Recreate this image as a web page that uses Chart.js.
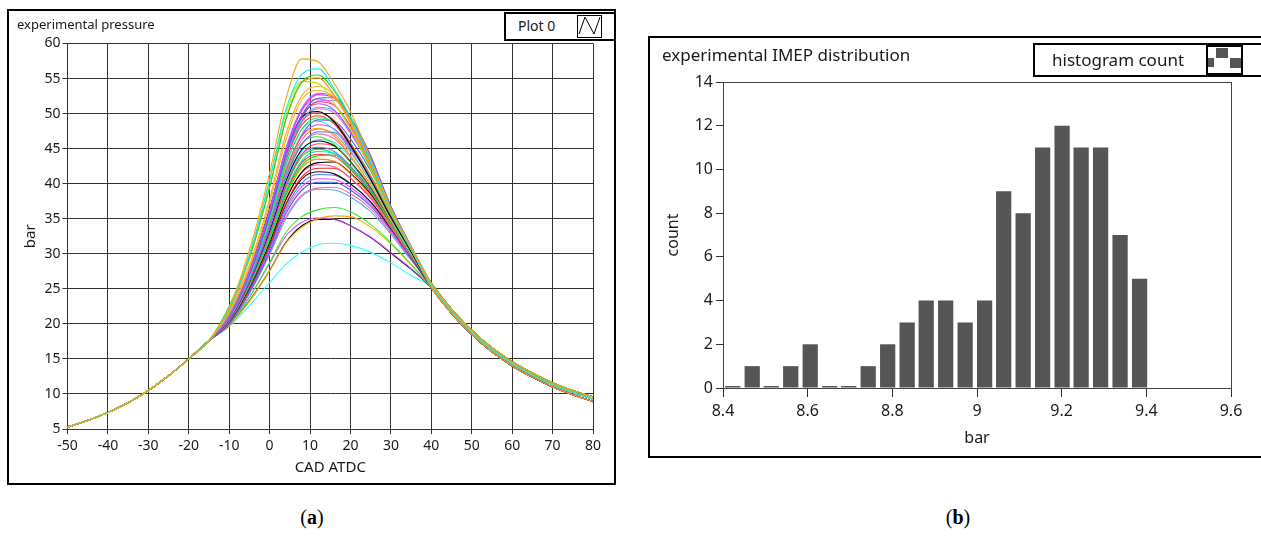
<!DOCTYPE html>
<html>
<head>
<meta charset="utf-8">
<script src="https://cdn.jsdelivr.net/npm/chart.js@4.4.1/dist/chart.umd.min.js"></script>
<style>
  html,body{margin:0;padding:0;background:#fff;}
  body{width:1261px;height:539px;overflow:hidden;position:relative;font-family:'Noto Sans',sans-serif;color:#1a1a1a;}
  .frame{position:absolute;border:2px solid #000;box-sizing:border-box;background:#fff;}
  .frame canvas{position:absolute;left:0;top:0;}
  .ptitle{position:absolute;white-space:nowrap;}
  .legA{position:absolute;left:495px;top:1px;width:112px;height:29px;border:2px solid #000;box-sizing:border-box;background:#fff;}
  .legA .txt{position:absolute;left:12px;top:3px;font-size:14px;line-height:18px;}
  .legA .ico{position:absolute;left:71px;top:1px;width:25px;height:23px;border:1px solid #000;box-sizing:border-box;}
  .legB{position:absolute;left:383px;top:5px;width:240px;height:34px;border:2px solid #000;box-sizing:border-box;background:#fff;}
  .legB .txt{position:absolute;left:17px;top:3px;font-size:17px;line-height:23px;}
  .legB .ico{position:absolute;left:171px;top:0;width:37px;height:30px;border:2px solid #000;box-sizing:border-box;}
  .legB .cell{position:absolute;left:208px;top:0;width:30px;height:30px;}
  .cap{position:absolute;top:505px;width:60px;text-align:center;font:20px 'Liberation Serif',serif;line-height:24px;color:#000;}
</style>
</head>
<body>

<div class="frame" style="left:7px;top:9px;width:609px;height:476px;">
  <canvas id="pressureChart" width="605" height="472"></canvas>
  <div class="ptitle" style="left:8px;top:4px;font-size:13px;line-height:18px;">experimental pressure</div>
  <div class="legA">
    <div class="txt">Plot 0</div>
    <div class="ico">
      <svg width="23" height="21" style="position:absolute;left:0;top:0"><polyline points="1,18 7,1 16,18 22,1" fill="none" stroke="#000" stroke-width="1"/></svg>
    </div>
  </div>
</div>

<div class="frame" style="left:648px;top:36px;width:630px;height:422px;">
  <canvas id="imepChart" width="611" height="418"></canvas>
  <div class="ptitle" style="left:12px;top:6px;font-size:17px;line-height:22px;">experimental IMEP distribution</div>
  <div class="legB">
    <div class="txt">histogram count</div>
    <div class="ico">
      <svg width="33" height="26" style="position:absolute;left:0;top:0">
        <rect x="0" y="11" width="6" height="9" fill="#555"/>
        <rect x="8" y="1" width="12" height="10" fill="#555"/>
        <rect x="22" y="11" width="11" height="10" fill="#555"/>
      </svg>
    </div>
    <div class="cell"></div>
  </div>
</div>

<div class="cap" style="left:282px;">(<b>a</b>)</div>
<div class="cap" style="left:928px;">(<b>b</b>)</div>

<script>
// ---------------------
// 資料: 缸壓曲線
// ---------------------
const cadAngles = [-50,-45,-40,-35,-30,-25,-20,-15, -10,-5,0,4,8,12,16,20,25,30,35, 40,45,50,55,60,65,70,75,80];

// 壓縮段 (-50 ~ -15) 各循環幾乎相同
const compressionBar = [5.3,6.2,7.35,8.75,10.5,12.6,15.0,17.6];

// 燃燒段 (-10,-5,0,4,8,12,16,20,25,30,35)
const cycleCombustion = [
  [22.3,30.5,41.5,52.0,57.8,57.4,54.3,50.3,43.5,36.5,31.0],
  [22.0,29.8,40.5,50.5,55.6,56.4,53.5,49.5,43.0,36.2,30.8],
  [22.5,29.5,39.5,49.0,54.5,55.5,53.2,49.3,43.0,36.2,30.8],
  [21.9,29.2,39.5,49.2,54.5,55.1,52.6,48.6,42.5,36.0,30.7],
  [22.0,29.8,40.5,50.0,54.6,54.3,51.5,47.8,42.0,35.8,30.6],
  [21.7,28.4,37.8,47.0,52.6,53.9,52.6,49.0,43.0,36.2,30.8],
  [21.5,28.0,37.2,46.2,52.0,53.3,52.3,48.8,43.0,36.2,30.8],
  [21.2,27.4,36.2,45.0,50.8,52.9,52.4,49.3,43.6,36.6,31.0],
  [21.1,27.2,36.0,44.7,50.5,52.7,52.2,49.2,43.5,36.5,31.0],
  [21.0,27.0,35.5,44.0,49.8,52.2,52.3,49.5,44.0,36.8,31.1],
  [21.2,27.4,36.2,44.8,50.5,52.1,51.2,48.0,42.6,36.0,30.7],
  [21.1,27.1,35.6,44.0,49.6,51.7,51.2,48.2,42.9,36.2,30.8],
  [21.2,27.4,36.0,44.5,49.8,51.4,50.5,47.4,42.2,35.8,30.6],
  [21.0,26.8,35.2,43.5,49.0,50.9,50.4,47.5,42.4,35.9,30.6],
  [21.3,27.6,36.4,44.6,49.5,50.3,48.8,45.5,40.6,35.2,30.3],
  [21.1,27.0,35.5,43.6,48.9,50.1,49.0,45.8,41.0,35.4,30.4],
  [20.9,26.6,34.6,42.5,47.8,49.4,48.7,45.8,41.2,35.5,30.4],
  [21.0,26.8,34.9,42.7,47.8,48.9,47.7,44.7,40.3,35.0,30.1],
  [20.8,26.4,34.2,41.8,46.8,48.4,47.8,45.2,40.8,35.2,30.3],
  [20.9,26.6,34.4,42.0,46.8,47.9,46.8,44.0,39.8,34.8,30.0],
  [20.7,26.1,33.6,40.8,45.6,47.4,47.3,45.0,40.8,35.2,30.3],
  [20.7,26.2,33.7,40.9,45.7,47.1,46.4,43.9,39.8,34.7,30.0],
  [20.8,26.4,34.0,41.2,45.8,46.7,45.6,43.0,39.2,34.4,29.9],
  [20.6,26.0,33.3,40.3,44.9,46.1,45.4,43.1,39.3,34.5,29.9],
  [20.5,25.8,32.8,39.6,44.2,45.7,45.4,43.2,39.5,34.6,30.0],
  [20.5,25.8,32.9,39.7,44.2,45.2,44.6,42.5,38.9,34.3,29.8],
  [20.4,25.6,32.4,39.0,43.3,44.6,44.3,42.4,39.0,34.3,29.8],
  [20.4,25.4,32.0,38.4,42.6,44.0,44.1,42.4,39.1,34.4,29.9],
  [20.4,25.4,32.0,38.2,42.3,43.5,43.2,41.4,38.3,34.0,29.7],
  [20.3,25.2,31.6,37.7,41.7,43.0,43.1,41.5,38.5,34.1,29.8],
  [20.3,25.2,31.6,37.7,41.6,42.7,42.4,40.8,37.9,33.8,29.6],
  [20.2,25.0,31.2,37.1,41.0,42.2,42.2,40.8,38.0,33.9,29.7],
  [20.2,25.0,31.2,37.0,40.7,41.7,41.4,40.0,37.4,33.6,29.5],
  [20.1,24.8,30.8,36.5,40.1,41.3,41.2,39.9,37.4,33.6,29.5],
  [20.1,24.7,30.6,36.1,39.6,40.7,40.6,39.5,37.1,33.4,29.4],
  [20.0,24.5,30.3,35.7,39.1,40.2,40.2,39.1,36.8,33.3,29.3],
  [20.0,24.4,30.0,35.2,38.4,39.4,39.5,38.6,36.4,33.0,29.2],
  [19.9,24.3,29.9,35.0,38.2,39.2,39.1,38.1,36.0,32.8,29.1],
  [21.0,26.9,35.2,43.2,48.4,49.7,48.5,45.4,40.8,35.3,30.3],
  [20.8,26.3,34.0,41.4,46.3,47.8,47.1,44.5,40.3,35.0,30.1],
  [20.5,25.7,32.7,39.4,43.9,44.9,44.3,42.2,38.8,34.2,29.8],
  [20.9,26.8,35.1,43.4,49.3,51.8,51.9,49.1,43.8,36.7,31.0],
  [20.6,25.9,33.0,39.9,44.6,46.3,45.9,43.7,39.8,34.8,30.1],
  [20.4,25.5,32.2,38.7,43.0,44.2,43.9,42.0,38.7,34.2,29.8],
  [20.8,26.4,34.2,41.8,47.0,49.1,48.9,46.4,41.8,35.8,30.5],
  [21.0,26.9,35.1,43.3,48.8,50.7,50.1,47.2,42.3,35.9,30.6],
  [19.9,23.8,28.8,33.0,35.3,36.3,36.6,36.0,34.2,31.6,28.5],
  [19.8,23.2,27.6,31.5,33.8,35.0,35.4,35.3,33.8,31.4,28.4],
  [19.9,23.8,28.6,32.5,34.5,35.1,34.9,34.0,32.4,30.2,27.9],
  [19.8,23.3,27.6,31.6,34.0,34.9,34.9,34.0,32.3,30.1,27.8],
  [19.6,22.6,25.9,28.5,30.3,31.3,31.5,31.2,30.2,28.7,26.9]
];

// 膨脹段 (40 ~ 80)
const expansionTails = [
  [25.8,22.1,19.1,16.6,14.6,13.0,11.6,10.5,9.6],
  [25.5,21.8,18.8,16.3,14.3,12.7,11.3,10.2,9.25],
  [25.2,21.5,18.5,16.0,14.0,12.4,11.0,9.9,8.9]
];
const cycleTail = [0,1,0,2,1,0,1,0,1,0,2,1,0,1,2,1,0,2,1,1,0,2,1,2,0,1,2,0,1,2,1,0,2,1,2,1,2,0,1,2,0,1,2,1,0,1,2,2,2,2,2];

const cycleColors = [
  "#ffa500","#00f0ff","#22dd22","#ff9900","#aaee00","#ffaa22","#ffb020","#9966ff","#ee33ee","#4466ff",
  "#ff66cc","#ff3333","#aa55ff","#33bbff","#000000","#ff5050","#22ee44","#22e0e0","#dd44dd","#ff9f1a",
  "#5577ff","#ff77aa","#33dd33","#000000","#ff4444","#8866ff","#00ddee","#00ee00","#ff8c00","#000000",
  "#ff5599","#ff2222","#111111","#4477ff","#ff44ff","#3366ee","#ff66aa","#55aaff","#ff3a3a","#ff7070",
  "#22ee22","#bb66ff","#40e8ff","#ff3030","#3f6fff","#ff60c0","#33ee33","#ffaa00","#cc55ff","#000000",
  "#33ffff"
];

// ---------------------
// 資料: IMEP 直方圖
// ---------------------
const imepBins = [8.423,8.469,8.514,8.560,8.606,8.652,8.697,8.743,8.789,8.835,8.880,
                  8.926,8.972,9.018,9.063,9.109,9.155,9.201,9.246,9.292,9.338,9.384];
const imepCounts = [0,1,0,1,2,0,0,1,2,3,4,4,3,4,9,8,11,12,11,11,7,5];
const imepTicks = [8.4,8.6,8.8,9,9.2,9.4,9.6];

Chart.defaults.font.family = "'Noto Sans', sans-serif";
Chart.defaults.color = "#1a1a1a";

// ---------------------
// 缸壓圖
// ---------------------
const pressureSets = cycleCombustion.map((row,i)=>{
  const p = compressionBar.concat(row, expansionTails[cycleTail[i]]);
  return {
    data: cadAngles.map((a,k)=>({x:a, y:p[k]})),
    borderColor: cycleColors[i],
    borderWidth: 1.1,
    pointRadius: 0,
    fill: false,
    cubicInterpolationMode: "monotone"
  };
});

new Chart(document.getElementById("pressureChart"),{
  type:"line",
  data:{datasets:pressureSets},
  options:{
    responsive:false,
    animation:false,
    layout:{padding:{left:0,top:32.5,right:21,bottom:0}},
    plugins:{legend:{display:false},tooltip:{enabled:false}},
    scales:{
      x:{
        type:"linear", min:-50, max:80,
        ticks:{stepSize:10, font:{size:14}, padding:4, maxRotation:0},
        grid:{color:"#333", tickLength:5, lineWidth:1},
        border:{color:"#333"},
        title:{display:true, text:"CAD ATDC", font:{size:15}, padding:{top:0,bottom:6}},
        afterFit(s){ s.height = 54; }
      },
      y:{
        min:5, max:60,
        ticks:{stepSize:5, font:{size:14}, padding:2},
        grid:{color:"#333", tickLength:5, lineWidth:1},
        border:{color:"#333"},
        title:{display:true, text:"bar", font:{size:15}, padding:{top:13,bottom:0}},
        afterFit(s){ s.width = 58.5; }
      }
    }
  }
});

// ---------------------
// IMEP 直方圖
// ---------------------
const plotFrame = {
  id:"plotFrame",
  afterDraw(chart){
    const {ctx, chartArea:a} = chart;
    ctx.save();
    ctx.strokeStyle = "#444";
    ctx.lineWidth = 1;
    ctx.strokeRect(Math.round(a.left)+0.5, Math.round(a.top)+0.5, Math.round(a.right-a.left), Math.round(a.bottom-a.top));
    ctx.restore();
  }
};

new Chart(document.getElementById("imepChart"),{
  type:"bar",
  data:{datasets:[{
    data: imepBins.map((b,i)=>({x:b, y:imepCounts[i]})),
    backgroundColor:"#555555",
    borderWidth:0,
    minBarLength:2,
    categoryPercentage:1,
    barPercentage:0.8
  }]},
  options:{
    responsive:false,
    animation:false,
    layout:{padding:{left:0,top:44,right:30,bottom:0}},
    plugins:{legend:{display:false},tooltip:{enabled:false}},
    scales:{
      x:{
        type:"linear", min:8.4, max:9.6, offset:false,
        afterBuildTicks(s){ s.ticks = imepTicks.map(v=>({value:v})); },
        ticks:{font:{size:16}, padding:5, maxRotation:0, callback:v=>String(+v.toFixed(1))},
        grid:{drawOnChartArea:false, offset:false, tickLength:9, tickColor:"#333"},
        border:{color:"#333"},
        title:{display:true, text:"bar", font:{size:16}, padding:{top:0,bottom:8}},
        afterFit(s){ s.height = 68; }
      },
      y:{
        min:0, max:14,
        ticks:{stepSize:2, font:{size:16}, padding:3},
        grid:{drawOnChartArea:false, tickLength:7, tickColor:"#333"},
        border:{color:"#333"},
        title:{display:true, text:"count", font:{size:16}, padding:{top:14,bottom:0}},
        afterFit(s){ s.width = 73; }
      }
    }
  },
  plugins:[plotFrame]
});
</script>
</body>
</html>
